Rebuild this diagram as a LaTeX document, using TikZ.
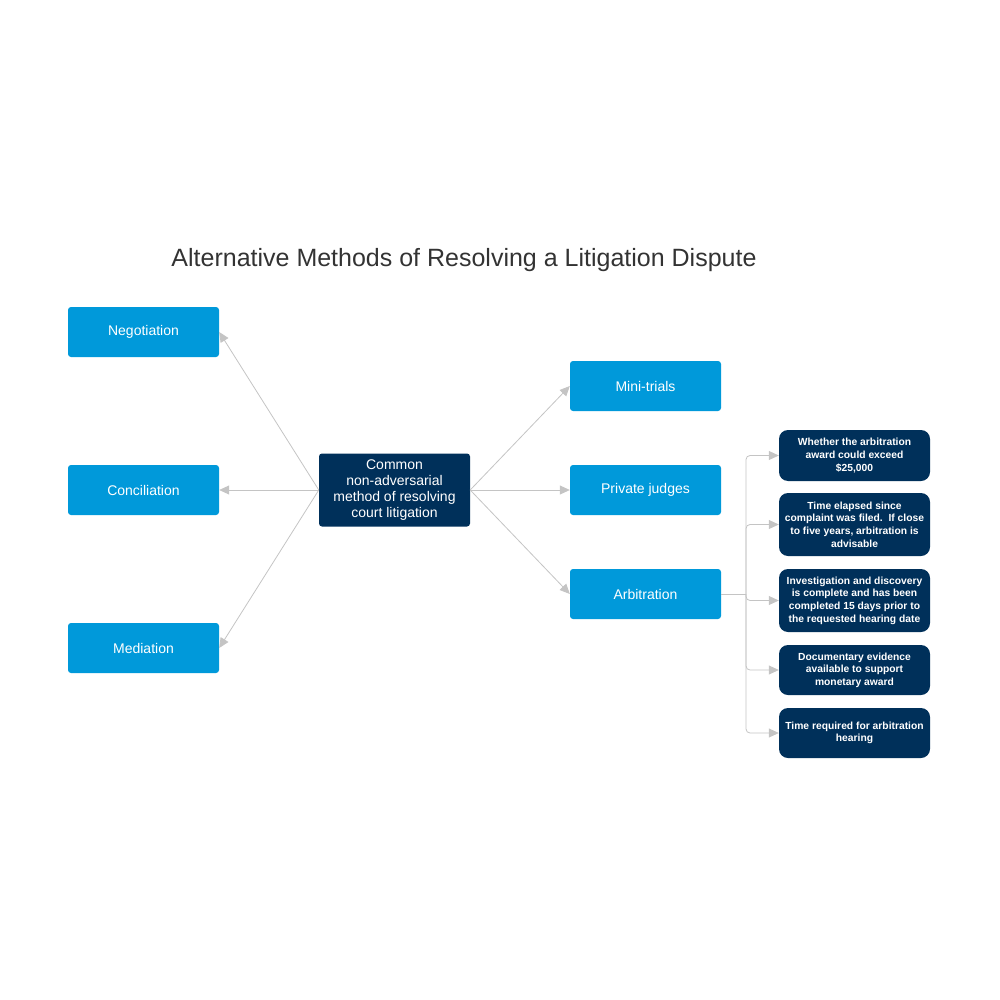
\documentclass[tikz,border=0pt]{standalone}
\usepackage{fontspec}
\setmainfont{Liberation Sans}
\usetikzlibrary{arrows.meta}
\definecolor{lightblue}{HTML}{0099DA}
\definecolor{navy}{HTML}{00305A}
\definecolor{linkgray}{HTML}{C4C4C4}
\tikzset{
	method/.style={fill=lightblue, text=white, rounded corners=3pt, minimum width=151pt, minimum height=50pt, font=\fontsize{14}{16}\selectfont, align=center, inner sep=0pt},
	hub/.style={fill=navy, text=white, rounded corners=3pt, minimum width=151pt, minimum height=73pt, font=\fontsize{14}{16}\selectfont, align=center, inner sep=0pt},
	factor/.style={fill=navy, text=white, rounded corners=9pt, minimum width=151pt, font=\bfseries\fontsize{10.3}{12.6}\selectfont, align=center, inner sep=0pt},
	link/.style={draw=linkgray, line width=0.8pt, -{Triangle[length=10pt, width=9pt, fill=linkgray]}}
}
\begin{document}
\begin{tikzpicture}[x=1pt, y=-1pt]
		\useasboundingbox (0,0) rectangle (1000,1000);
		\node (title) at (464,260) [font=\fontsize{25}{29}\selectfont, text=black!80] {Alternative Methods of Resolving a Litigation Dispute};
		
		\node (hub) at (394.5,490) [hub] {Common\\non-adversarial\\method of resolving\\court litigation};
		
		\node (nego) at (143.5,332) [method] {Negotiation};
		\node (conc) at (143.5,490) [method] {Conciliation};
		\node (medi) at (143.5,648) [method] {Mediation};
		\node (mini) at (645.5,386) [method] {Mini-trials};
		\node (judg) at (645.5,490) [method] {Private judges};
		\node (arbi) at (645.5,594) [method] {Arbitration};
		
		\node (f1) at (854.5,455.5) [factor, minimum height=51pt] {Whether the arbitration\\award could exceed\\\$25,000};
		\node (f2) at (854.5,524.5) [factor, minimum height=63pt] {Time elapsed since\\complaint was filed.\ \ If close\\to five years, arbitration is\\advisable};
		\node (f3) at (854.5,600.5) [factor, minimum height=63pt] {Investigation and discovery\\is complete and has been\\completed 15 days prior to\\the requested hearing date};
		\node (f4) at (854.5,670) [factor, minimum height=50pt] {Documentary evidence\\available to support\\monetary award};
		\node (f5) at (854.5,733) [factor, minimum height=50pt] {Time required for arbitration\\hearing};
		
		\draw [link] (hub.west) -> (nego.east);
		\draw [link] (hub.west) -> (conc.east);
		\draw [link] (hub.west) -> (medi.east);
		\draw [link] (hub.east) -> (mini.west);
		\draw [link] (hub.east) -> (judg.west);
		\draw [link] (hub.east) -> (arbi.west);
		
		\coordinate (fork) at (746,594);
		\draw [linkgray, line width=0.8pt] (arbi.east) -- (fork);
		\foreach \f in {f1,f2,f3,f4,f5}
			\draw [link, rounded corners=4pt] (fork) |- (\f.west);
		\end{tikzpicture}
\end{document}
